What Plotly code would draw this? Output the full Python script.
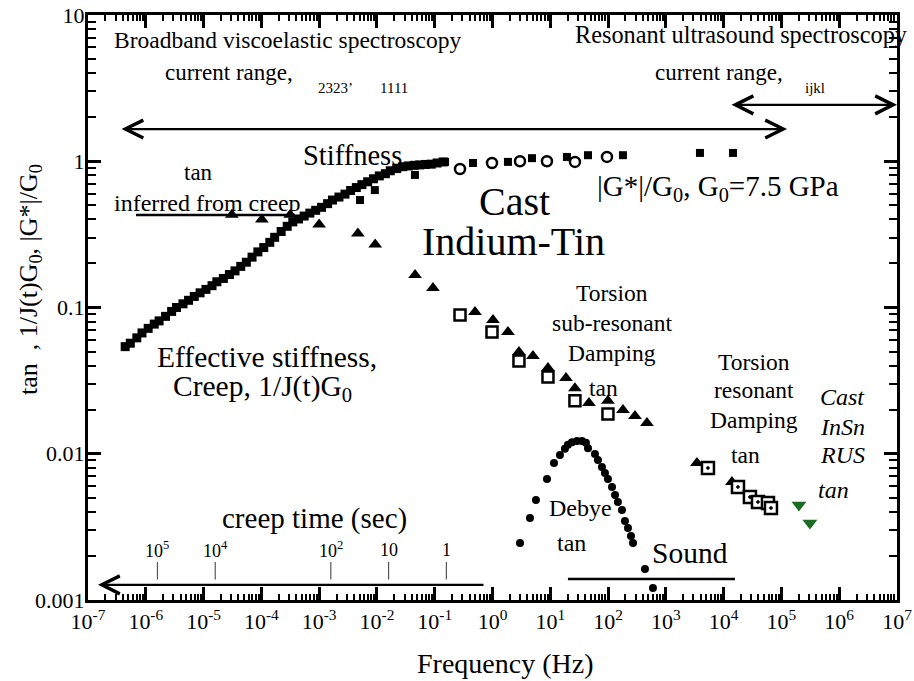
import plotly.graph_objects as go
import math

FONT = "Liberation Serif"

# ---------------- data ----------------
# Effective stiffness from creep, 1/J(t)G0  (frequency Hz, value)
creep_freq = [4.4e-7, 5.4e-7, 7.0e-7, 8.6e-7, 1.1e-6, 1.4e-6, 1.7e-6, 2.2e-6, 2.8e-6, 3.4e-6,
              4.4e-6, 5.5e-6, 6.9e-6, 8.7e-6, 1.1e-5, 1.4e-5, 1.7e-5, 2.2e-5, 2.8e-5, 3.5e-5,
              4.4e-5, 5.5e-5, 6.9e-5, 8.7e-5, 1.1e-4, 1.4e-4, 1.7e-4, 2.2e-4, 2.8e-4, 3.5e-4,
              4.4e-4, 5.5e-4, 6.9e-4, 8.7e-4, 1.1e-3, 1.4e-3, 1.7e-3, 2.2e-3, 2.8e-3, 3.5e-3,
              4.4e-3, 5.5e-3, 6.9e-3, 8.7e-3, 1.1e-2, 1.4e-2, 1.7e-2, 2.2e-2, 2.8e-2, 3.5e-2,
              4.4e-2, 5.5e-2, 6.9e-2, 8.7e-2, 1.1e-1, 1.4e-1]
creep_val = [0.054, 0.057, 0.062, 0.067, 0.072, 0.077, 0.081, 0.087, 0.094, 0.100,
             0.106, 0.112, 0.119, 0.126, 0.133, 0.141, 0.150, 0.158, 0.168, 0.178,
             0.191, 0.204, 0.221, 0.240, 0.257, 0.279, 0.302, 0.331, 0.359, 0.385,
             0.403, 0.422, 0.442, 0.462, 0.484, 0.513, 0.543, 0.569, 0.596, 0.631,
             0.661, 0.692, 0.724, 0.759, 0.794, 0.822, 0.861, 0.891, 0.918, 0.929,
             0.938, 0.944, 0.951, 0.955, 0.973, 0.989]

# |G*|/G0, filled squares
gsq_freq = [0.0051, 0.0092, 0.0455, 0.151, 0.459, 1.85, 4.82, 19.4, 44.9, 181, 3890, 14500]
gsq_val = [0.543, 0.635, 0.806, 0.99, 0.973, 0.99, 1.05, 1.07, 1.10, 1.10, 1.14, 1.14]

# |G*|/G0, open circles
gci_freq = [0.274, 0.98, 2.99, 8.75, 26.7, 95.7]
gci_val = [0.885, 0.973, 1.0, 1.0, 0.99, 1.07]

# tan delta: creep-inferred and sub-resonant torsion, filled triangles
tri_freq = [3.09e-5, 1.02e-4, 3.16e-4, 1.0e-3, 4.68e-3, 9.33e-3, 0.0457, 0.0933, 0.498, 1.02,
            1.85, 2.87, 5.01, 9.12, 18.7, 26.7, 46.7, 99.5, 181, 292, 471]
tri_val = [0.43, 0.40, 0.43, 0.37, 0.32, 0.27, 0.167, 0.136, 0.093, 0.082,
           0.068, 0.0496, 0.0466, 0.0386, 0.033, 0.028, 0.0222, 0.023, 0.0199, 0.0181, 0.0162]

# sub-resonant torsion tan delta, open squares
osq_freq = [0.274, 0.98, 2.87, 9.12, 26.7, 99.5]
osq_val = [0.089, 0.068, 0.043, 0.0335, 0.023, 0.0187]

# resonant torsion tan delta
rtri_freq = [3450, 13900]
rtri_val = [0.00865, 0.0064]
rsq_freq = [5350, 17700, 28500, 39300, 58500, 65900]
rsq_val = [0.0080, 0.00593, 0.00506, 0.00468, 0.0046, 0.00425]

# RUS tan delta (green)
rus_freq = [2.01e5, 3.11e5]
rus_val = [0.00447, 0.00336]

# Debye peak
deb_freq = [2.99, 4.45, 5.65, 8.77, 11.6, 14.7, 17.9, 20.2, 23.7, 29.0, 35.3, 41.4, 44.9, 59.3,
            66.8, 78.3, 88.3, 99.5, 117, 132, 148, 174, 196, 221, 249, 270, 435, 598]
deb_val = [0.00245, 0.00364, 0.00483, 0.00672, 0.00865, 0.0098, 0.0108, 0.0115, 0.0120, 0.0122,
           0.0122, 0.0119, 0.0109, 0.00995, 0.00906, 0.00811, 0.00738, 0.00672, 0.00593, 0.00523,
           0.00468, 0.00412, 0.00347, 0.00311, 0.00274, 0.00245, 0.00163, 0.00121]

# creep time axis labels (seconds)
creep_times = [1e5, 1e4, 1e2, 10, 1]
creep_time_labels = ["10<sup>5</sup>", "10<sup>4</sup>", "10<sup>2</sup>", "10", "1"]

x_exps = list(range(-7, 8))
y_tickvals = [0.001, 0.01, 0.1, 1, 10]
y_ticktext = ["0.001", "0.01", "0.1", "1", "10"]

# ---------------- figure ----------------
fig = go.Figure()

def mk(sym, size, color="black", line_color="black", line_width=0):
    return dict(symbol=sym, size=size, color=color, line=dict(color=line_color, width=line_width))

fig.add_trace(go.Scatter(x=creep_freq, y=creep_val, mode="markers", marker=mk("square", 9)))
fig.add_trace(go.Scatter(x=gsq_freq, y=gsq_val, mode="markers", marker=mk("square", 8)))
fig.add_trace(go.Scatter(x=gci_freq, y=gci_val, mode="markers",
                         marker=mk("circle", 10, "white", "black", 2.5)))
fig.add_trace(go.Scatter(x=tri_freq, y=tri_val, mode="markers", marker=mk("triangle-up", 12)))
fig.add_trace(go.Scatter(x=osq_freq, y=osq_val, mode="markers",
                         marker=mk("square", 11, "white", "black", 2.5)))
fig.add_trace(go.Scatter(x=rtri_freq, y=rtri_val, mode="markers", marker=mk("triangle-up", 12)))
fig.add_trace(go.Scatter(x=rsq_freq, y=rsq_val, mode="markers",
                         marker=mk("square-dot", 12, "white", "black", 2.5)))
fig.add_trace(go.Scatter(x=rus_freq, y=rus_val, mode="markers",
                         marker=mk("triangle-down", 13, "#1b6b22")))
fig.add_trace(go.Scatter(x=deb_freq, y=deb_val, mode="markers", marker=mk("circle", 8)))

# guide lines
fig.add_trace(go.Scatter(x=[6.78e-7, 3.82e-4], y=[0.429, 0.429], mode="lines",
                         line=dict(color="black", width=2.5)))
fig.add_trace(go.Scatter(x=[20.2, 15700], y=[0.00139, 0.00139], mode="lines",
                         line=dict(color="black", width=2.5)))
for t in creep_times:
    f = 1 / (2 * math.pi * t)
    fig.add_trace(go.Scatter(x=[f, f], y=[0.00138, 0.00182], mode="lines",
                             line=dict(color="#555555", width=1.2)))

# plot-area edges in page pixels
L, R, T, B = 88, 897, 15, 600
W, H = 914, 681

def P(px, py):
    return (px - L) / (R - L), (B - py) / (B - T)

ann = []

def txt(s, px, py, size, italic=False, angle=0):
    x, y = P(px, py)
    d = dict(text=s, x=x, y=y, xref="paper", yref="paper", showarrow=False,
             xanchor="center", yanchor="middle", textangle=angle,
             font=dict(family=FONT, size=size, color="black",
                       style="italic" if italic else "normal"))
    ann.append(d)

txt("Broadband viscoelastic spectroscopy", 287, 40, 23.5)
txt("current range,", 229, 72, 23)
txt("2323’", 335, 88, 15)
txt("1111", 394, 88, 15)
txt("Resonant ultrasound spectroscopy", 741, 35, 24.3)
txt("current range,", 719, 72, 23)
txt("ijkl", 815, 88, 15)
txt("Stiffness", 352, 155, 28.5)
txt("tan", 198, 172, 23)
txt("inferred from creep", 207, 203, 24)
txt("Cast", 514, 202, 40)
txt("Indium-Tin", 513, 242, 40)
txt("|G*|/G<sub>0</sub>, G<sub>0</sub>=7.5 GPa", 718, 188, 29)
txt("Effective stiffness,", 267, 357, 29.5)
txt("Creep, 1/J(t)G<sub>0</sub>", 262, 388, 29.5)
for s, yy in [("Torsion", 293), ("sub-resonant", 323), ("Damping", 353)]:
    txt(s, 612, yy, 23.5)
txt("tan", 603, 388, 23.5)
for s, yy in [("Torsion", 362), ("resonant", 390), ("Damping", 420)]:
    txt(s, 754, yy, 23.5)
txt("tan", 745, 455, 23.5)
for s, yy in [("Cast", 397), ("InSn", 427), ("RUS", 455)]:
    txt(s, 842, yy, 24, italic=True)
txt("tan", 833, 490, 24, italic=True)
txt("Debye", 580, 508, 24)
txt("tan", 571, 543, 24)
txt("Sound", 690, 553, 29.5)
txt("creep time (sec)", 314, 518, 29)
txt("Frequency (Hz)", 505, 663, 28)
txt("tan\u00a0\u00a0, 1/J(t)G<sub>0</sub>, |G*|/G<sub>0</sub>", 30, 280, 26, angle=-90)

# creep-time tick labels (annotation coords on log axes are log10)
for t, lab in zip(creep_times, creep_time_labels):
    ann.append(dict(text=lab, x=math.log10(1 / (2 * math.pi * t)), y=math.log10(0.0022),
                    xref="x", yref="y", showarrow=False, xanchor="center", yanchor="middle",
                    font=dict(family=FONT, size=18, color="black")))

# arrows
def arrow(x_head, x_tail, y, both):
    ann.append(dict(text="", x=x_head, y=y, ax=x_tail, ay=y, xref="x", yref="y",
                    axref="x", ayref="y", showarrow=True, arrowhead=5, arrowsize=1.6,
                    arrowwidth=2.2, arrowcolor="black",
                    arrowside="end+start" if both else "end"))

arrow(math.log10(1.25e5), math.log10(3.58e-7), math.log10(1.66), True)
arrow(7.0, math.log10(1.29e4), math.log10(2.43), True)
arrow(math.log10(1.49e-7), math.log10(0.741), math.log10(0.00127), False)

axis_common = dict(type="log", showline=True, linewidth=3, linecolor="black", mirror="allticks",
                   ticks="inside", ticklen=13, tickwidth=2.5, tickcolor="black",
                   showgrid=False, zeroline=False, automargin=False,
                   ticklabeloverflow="allow",
                   tickfont=dict(family=FONT, size=22, color="black"))

fig.update_layout(
    width=W, height=H,
    margin=dict(l=L, r=W - R, t=T, b=H - B, autoexpand=False),
    paper_bgcolor="white", plot_bgcolor="white",
    showlegend=False,
    annotations=ann,
    xaxis=dict(axis_common, range=[-7, 7], tickmode="array",
               tickvals=[10 ** k for k in x_exps],
               ticktext=[f"10<sup>{k}</sup>" for k in x_exps],
               minor=dict(ticks="inside", ticklen=6, tickwidth=2, tickcolor="black",
                          dtick="D1", showgrid=False)),
    yaxis=dict(axis_common, range=[-3, 1], tickmode="array",
               tickvals=y_tickvals, ticktext=y_ticktext, ticklabelstandoff=-4,
               minor=dict(ticks="inside", ticklen=8, tickwidth=2, tickcolor="black",
                          dtick="D1", showgrid=False)),
)

fig.write_html("out.html", config={"displayModeBar": False},
               post_script="document.body.style.margin='0';")
